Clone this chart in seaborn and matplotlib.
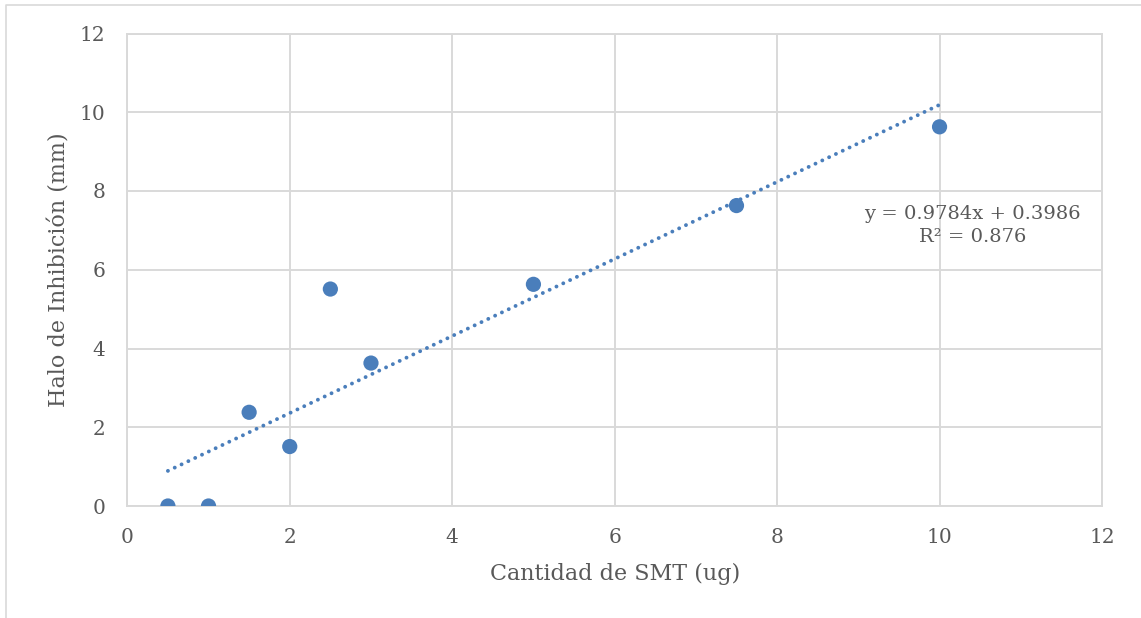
import matplotlib
matplotlib.use("Agg")
import matplotlib.pyplot as plt
import seaborn as sns
import pandas as pd
from matplotlib.lines import Line2D

# Data
cantidad_smt = [0.5, 1.0, 1.5, 2.0, 2.5, 3.0, 5.0, 7.5, 10.0]
halo_mm = [0.0, 0.0, 2.38, 1.51, 5.51, 3.63, 5.63, 7.63, 9.63]
x_ticks = [0, 2, 4, 6, 8, 10, 12]
y_ticks = [0, 2, 4, 6, 8, 10, 12]
eq_text = "y = 0.9784x + 0.3986\nR² = 0.876"
x_label = "Cantidad de SMT (ug)"
y_label = "Halo de Inhibición (mm)"

df = pd.DataFrame({"x": cantidad_smt, "y": halo_mm})

sns.set_theme(style="white")
plt.rcParams["font.family"] = ["DejaVu Serif"]

W, H = 1141, 618
fig = plt.figure(figsize=(W / 100, H / 100), dpi=100)
ax = fig.add_axes([127.3 / W, 1 - 506 / H, (1102 - 127.3) / W, (506 - 33.5) / H])

blue = "#4a7ebb"
grid_c = "#d9d9d9"
text_c = "#595959"

sns.regplot(data=df, x="x", y="y", ax=ax, scatter=False, ci=None, truncate=True,
            line_kws=dict(color=blue, lw=2.8, linestyle=(0, (0.01, 1.93)),
                          dash_capstyle="round", zorder=2))
sns.scatterplot(data=df, x="x", y="y", ax=ax, color=blue, s=120,
                edgecolor="none", zorder=3)

ax.set_xlim(0, 12)
ax.set_ylim(0, 12)
ax.set_xticks(x_ticks)
ax.set_yticks(y_ticks)
ax.grid(True, color=grid_c, lw=1.4)
ax.set_axisbelow(True)
for s in ax.spines.values():
    s.set_color(grid_c)
    s.set_linewidth(1.4)
ax.tick_params(axis="both", length=0, labelsize=14.5, labelcolor=text_c)
ax.tick_params(axis="y", pad=16)
ax.tick_params(axis="x", pad=16)
ax.set_xlabel(x_label, fontsize=16, color=text_c, labelpad=11)
ax.set_ylabel(y_label, fontsize=16, color=text_c, labelpad=6)

ax.text(10.41, 7.12, eq_text, ha="center", va="center", fontsize=14,
        color=text_c, linespacing=1.35)

# chart border (top and left)
fig.add_artist(Line2D([6 / W, 6 / W, 1], [0, 1 - 5 / H, 1 - 5 / H],
                      transform=fig.transFigure, color=grid_c, lw=1.2))

fig.savefig("out.png", dpi=100, facecolor="white")
